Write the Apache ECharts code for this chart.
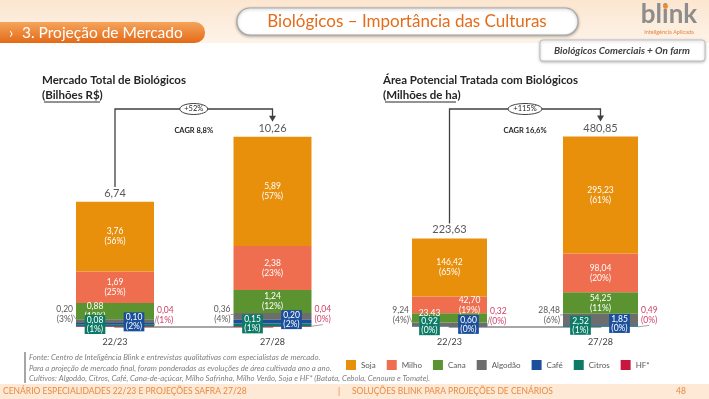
<!DOCTYPE html>
<html>
<head>
<meta charset="utf-8">
<script src="https://cdn.jsdelivr.net/npm/echarts@6/dist/echarts.min.js"></script>
<style>
html, body { margin: 0; padding: 0; background: #fff; }
#main { width: 709px; height: 399px; }
</style>
</head>
<body>
<div id="main"></div>
<script>
// dados (ordem de empilhamento de baixo para cima)
var categories = ['22/23', '27/28'];
var crops = ['HF*', 'Citros', 'Café', 'Algodão', 'Cana', 'Milho', 'Soja'];
var cropColors = ['#c8173f', '#0d7a66', '#1b4f9c', '#6d6d6d', '#5c9331', '#ef6e4f', '#e8900c'];
var legendOrder = ['Soja', 'Milho', 'Cana', 'Algodão', 'Café', 'Citros', 'HF*'];

// Mercado total de biológicos (bilhões R$)
var mercado2223 = [0.04, 0.08, 0.10, 0.20, 0.88, 1.69, 3.76];
var mercado2728 = [0.04, 0.15, 0.20, 0.36, 1.24, 2.38, 5.89];
var mercadoPct2223 = [1, 1, 2, 3, 13, 25, 56];
var mercadoPct2728 = [0, 1, 2, 4, 12, 23, 57];
var mercadoTotais = [6.74, 10.26];
var mercadoCrescimento = '+52%';
var mercadoCagr = 'CAGR 8,8%';

// Área potencial tratada (milhões de ha)
var area2223 = [0.32, 0.92, 0.60, 9.24, 23.43, 42.70, 146.42];
var area2728 = [0.49, 2.52, 1.85, 28.48, 54.25, 98.04, 295.23];
var areaPct2223 = [0, 0, 0, 4, 10, 19, 65];
var areaPct2728 = [0, 1, 0, 6, 11, 20, 61];
var areaTotais = [223.63, 480.85];
var areaCrescimento = '+115%';
var areaCagr = 'CAGR 16,6%';

var FONT = 'Lato';
var chart = echarts.init(document.getElementById('main'));

function fmt(v) { return v.toFixed(2).replace('.', ','); }

// deslocamentos de rótulos por gráfico [cat0, cat1]
var tweaks = [
  { cana: [[-20, 0], [0, 0]], milho: [[0, 0], [0, 0]], algDy: [-6.5, -2], hfDy: [-11, -12] },
  { cana: [[-20, 0], [0, 0]], milho: [[20, 0], [0, 0]], algDy: [-9, -4.5], hfDy: [-10.5, -11.5] }
];

function buildSeries(gi, v1, v2, p1, p2, totais, barW) {
  var out = [];
  var tw = tweaks[gi];
  crops.forEach(function (crop, ci) {
    var vals = [v1[ci], v2[ci]];
    var pcts = [p1[ci], p2[ci]];
    var data = vals.map(function (v, k) {
      var d = { value: v };
      if (crop === 'Cana') d.label = { offset: tw.cana[k] };
      if (crop === 'Milho') d.label = { offset: tw.milho[k] };
      return d;
    });
    var label = {
      show: true, fontFamily: FONT, fontSize: 8.5, lineHeight: 10, color: '#fff',
      formatter: function (p) { return fmt(vals[p.dataIndex]) + '\n(' + pcts[p.dataIndex] + '%)'; }
    };
    var s = {
      name: crop, type: 'bar', stack: 'g' + gi, xAxisIndex: gi, yAxisIndex: gi,
      barWidth: barW, itemStyle: { color: cropColors[ci] }, data: data, label: label,
      emphasis: { disabled: true }
    };
    if (crop === 'HF*') {
      label.position = 'right'; label.distance = 3; label.color = '#d0406a';
      s.labelLayout = function (p) { return { dy: tw.hfDy[p.dataIndex] }; };
      s.labelLine = { show: true, length2: 0, lineStyle: { color: '#8c8c8c', width: 0.8 } };
    } else if (crop === 'Algodão') {
      label.position = 'left'; label.distance = 3; label.color = '#595959';
      s.labelLayout = function (p) { return { dy: tw.algDy[p.dataIndex] }; };
      s.labelLine = { show: true, length2: 0, lineStyle: { color: '#8c8c8c', width: 0.8 } };
    } else if (crop === 'Citros' || crop === 'Café') {
      label.position = 'inside';
      label.offset = crop === 'Citros' ? [-20, -1] : [19, -2];
      label.backgroundColor = cropColors[ci];
      label.padding = [1, 2, 0, 2];
      label.lineHeight = 9;
      s.z = 5;
    } else {
      label.position = 'inside';
    }
    out.push(s);
  });
  out.push({
    name: 'Total', type: 'bar', stack: 'g' + gi, xAxisIndex: gi, yAxisIndex: gi,
    barWidth: barW, itemStyle: { color: 'transparent' }, data: [0, 0],
    label: {
      show: true, position: 'top', distance: 3, fontFamily: FONT, fontSize: 11, color: '#595959',
      formatter: function (p) { return fmt(totais[p.dataIndex]); }
    }
  });
  return out;
}

var series = buildSeries(0, mercado2223, mercado2728, mercadoPct2223, mercadoPct2728, mercadoTotais, 78)
  .concat(buildSeries(1, area2223, area2728, areaPct2223, areaPct2728, areaTotais, 75));

function xAxisCfg(gi) {
  return {
    gridIndex: gi, type: 'category', data: categories, boundaryGap: false,
    axisLine: { lineStyle: { color: '#a6a6a6', width: 2 } },
    axisTick: { show: false },
    axisLabel: { margin: 11, fontFamily: FONT, fontSize: 9, color: '#404040' }
  };
}

var option = {
  animation: false,
  textStyle: { fontFamily: FONT },
  grid: [
    { left: 115, width: 157.5, top: 123, height: 204, outerBoundsMode: 'none' },
    { left: 449.5, width: 151, top: 129, height: 198, outerBoundsMode: 'none' }
  ],
  xAxis: [xAxisCfg(0), xAxisCfg(1)],
  yAxis: [
    { gridIndex: 0, type: 'value', min: 0, max: 11, show: false },
    { gridIndex: 1, type: 'value', min: 0, max: 500, show: false }
  ],
  legend: {
    data: legendOrder, left: 346, top: 360, padding: 0, icon: 'rect',
    itemWidth: 10, itemHeight: 10, itemGap: 11, selectedMode: false,
    textStyle: { fontFamily: FONT, fontSize: 8, color: '#595959' }
  },
  series: series
};
chart.setOption(option);

// elementos da página e setas de crescimento
function bracket(gi, totais, growth, cagr, rx) {
  var a = chart.convertToPixel({ gridIndex: gi }, [0, totais[0]]);
  var b = chart.convertToPixel({ gridIndex: gi }, [1, totais[1]]);
  var topY = 109, tip = b[1] - 15, mid = (a[0] + b[0]) / 2;
  return [
    { type: 'polyline', shape: { points: [[a[0], a[1] - 15], [a[0], topY], [b[0], topY], [b[0], tip - 5]] },
      style: { stroke: '#404040', lineWidth: 1.3, fill: null }, z: 10 },
    { type: 'polygon', shape: { points: [[b[0] - 3.5, tip - 6], [b[0] + 3.5, tip - 6], [b[0], tip]] },
      style: { fill: '#404040' }, z: 10 },
    { type: 'ellipse', shape: { cx: mid, cy: topY, rx: rx, ry: 5.5 },
      style: { fill: '#fff', stroke: '#404040', lineWidth: 1 }, z: 11 },
    { type: 'text', x: mid, y: topY, z: 12,
      style: { text: growth, fontFamily: FONT, fontSize: 7.5, fill: '#262626', align: 'center', verticalAlign: 'middle' } },
    { type: 'text', x: mid, y: 131, z: 12,
      style: { text: cagr, fontFamily: FONT, fontSize: 7.5, fontWeight: 'bold', fill: '#262626', align: 'center', verticalAlign: 'middle' } }
  ];
}

var graphics = [
  { type: 'rect', shape: { x: 0, y: 0, width: 709, height: 43 }, z: -10,
    style: { fill: new echarts.graphic.LinearGradient(0, 0, 0, 1, [{ offset: 0, color: '#fce6d0' }, { offset: 1, color: '#fdf3e8' }]) } },
  { type: 'rect', shape: { x: -12, y: 22, width: 217, height: 21, r: [0, 10, 10, 0] }, z: -5,
    style: { fill: new echarts.graphic.LinearGradient(0, 0, 0, 1, [{ offset: 0, color: '#f5a45c' }, { offset: 1, color: '#e36a16' }]) } },
  { type: 'text', x: 9, y: 33, style: { text: '›', fontFamily: FONT, fontSize: 15, fill: '#fff', verticalAlign: 'middle' } },
  { type: 'text', x: 22, y: 33, style: { text: '3. Projeção de Mercado', fontFamily: FONT, fontSize: 15.5, fill: '#fff', verticalAlign: 'middle' } },
  { type: 'rect', shape: { x: 237, y: 8, width: 341, height: 27, r: 13 },
    style: { fill: '#fff', stroke: '#a6a6a6', lineWidth: 1.2, shadowBlur: 3, shadowColor: 'rgba(0,0,0,0.3)', shadowOffsetY: 1 } },
  { type: 'text', x: 407, y: 22, style: { text: 'Biológicos – Importância das Culturas', fontFamily: FONT, fontSize: 17, fill: '#e46c1a', align: 'center', verticalAlign: 'middle' } },
  { type: 'text', x: 669, y: 15, style: { text: 'blink', fontFamily: FONT, fontSize: 26, fontWeight: 'bold', fill: '#8d8d8d', align: 'center', verticalAlign: 'middle' } },
  { type: 'circle', shape: { cx: 665.5, cy: 6.5, r: 2.4 }, style: { fill: '#f08a2c' } },
  { type: 'text', x: 669, y: 32, style: { text: 'Inteligência Aplicada', fontFamily: FONT, fontSize: 5.5, fill: '#e8823a', align: 'center', verticalAlign: 'middle' } },
  { type: 'rect', shape: { x: 540, y: 40, width: 165, height: 21, r: 3 },
    style: { fill: '#fff', stroke: '#bfbfbf', lineWidth: 1, shadowBlur: 3, shadowColor: 'rgba(0,0,0,0.25)', shadowOffsetY: 1 } },
  { type: 'text', x: 622, y: 51, style: { text: 'Biológicos Comerciais + On farm', fontFamily: FONT, fontSize: 10, fontStyle: 'italic', fontWeight: 'bold', fill: '#404040', align: 'center', verticalAlign: 'middle' } },

  { type: 'text', x: 42, y: 80, style: { text: 'Mercado Total de Biológicos', fontFamily: FONT, fontSize: 11.5, fontWeight: 'bold', fill: '#262626', verticalAlign: 'middle' } },
  { type: 'text', x: 42, y: 95, style: { text: '(Bilhões R$)', fontFamily: FONT, fontSize: 11.5, fontWeight: 'bold', fill: '#262626', verticalAlign: 'middle' } },
  { type: 'line', shape: { x1: 44, y1: 102, x2: 100, y2: 102 }, style: { stroke: '#262626', lineWidth: 1 } },
  { type: 'text', x: 383, y: 80, style: { text: 'Área Potencial Tratada com Biológicos', fontFamily: FONT, fontSize: 11.5, fontWeight: 'bold', fill: '#262626', verticalAlign: 'middle' } },
  { type: 'text', x: 383, y: 95, style: { text: '(Milhões de ha)', fontFamily: FONT, fontSize: 11.5, fontWeight: 'bold', fill: '#262626', verticalAlign: 'middle' } },
  { type: 'line', shape: { x1: 385, y1: 102, x2: 456, y2: 102 }, style: { stroke: '#262626', lineWidth: 1 } },

  { type: 'rect', shape: { x: 24, y: 352, width: 2, height: 31 }, style: { fill: '#a6a6a6' } },
  { type: 'text', x: 29, y: 357, style: { text: 'Fonte: Centro de Inteligência Blink e entrevistas qualitativas com especialistas de mercado.', fontFamily: FONT, fontSize: 7.8, fontStyle: 'italic', fill: '#7f7f7f', verticalAlign: 'middle' } },
  { type: 'text', x: 29, y: 368, style: { text: 'Para a projeção de mercado final, foram ponderadas as evoluções de área cultivada ano a ano.', fontFamily: FONT, fontSize: 7.8, fontStyle: 'italic', fill: '#7f7f7f', verticalAlign: 'middle' } },
  { type: 'text', x: 29, y: 378, style: { text: 'Cultivos: Algodão, Citros, Café, Cana-de-açúcar, Milho Safrinha, Milho Verão, Soja e HF* (Batata, Cebola, Cenoura e Tomate).', fontFamily: FONT, fontSize: 7.8, fontStyle: 'italic', fill: '#7f7f7f', verticalAlign: 'middle' } },

  { type: 'rect', shape: { x: 0, y: 384, width: 709, height: 15 }, z: -10, style: { fill: '#fde9d5' } },
  { type: 'text', x: 3, y: 391.5, style: { text: 'CENÁRIO ESPECIALIDADES 22/23 E PROJEÇÕES SAFRA 27/28', fontFamily: FONT, fontSize: 8.5, fill: '#e9893f', verticalAlign: 'middle' } },
  { type: 'text', x: 338, y: 391.5, style: { text: '|', fontFamily: FONT, fontSize: 8.5, fill: '#e9893f', verticalAlign: 'middle' } },
  { type: 'text', x: 352, y: 391.5, style: { text: 'SOLUÇÕES BLINK PARA PROJEÇÕES DE CENÁRIOS', fontFamily: FONT, fontSize: 8.5, fill: '#e9893f', verticalAlign: 'middle' } },
  { type: 'text', x: 676, y: 391.5, style: { text: '48', fontFamily: FONT, fontSize: 8.5, fill: '#e9893f', verticalAlign: 'middle' } }
];

graphics = graphics
  .concat(bracket(0, mercadoTotais, mercadoCrescimento, mercadoCagr, 14))
  .concat(bracket(1, areaTotais, areaCrescimento, areaCagr, 17));

chart.setOption({ graphic: graphics });
</script>
</body>
</html>
